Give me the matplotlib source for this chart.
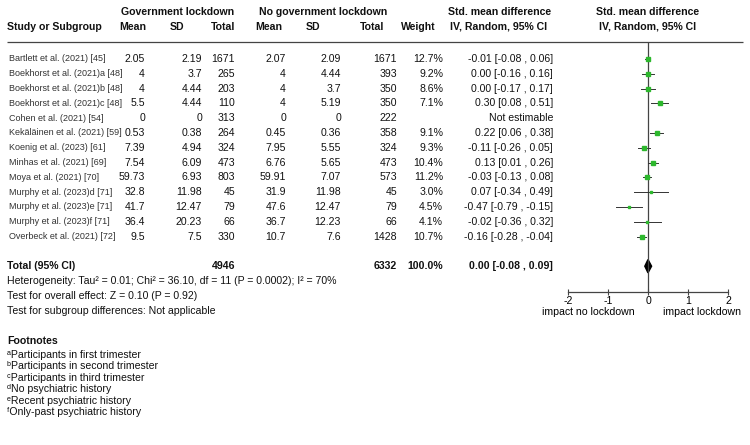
import matplotlib
matplotlib.use("Agg")
import matplotlib.pyplot as plt
from matplotlib.patches import Polygon

plt.rcParams['font.family'] = ['Liberation Sans', 'DejaVu Sans']

# #### Data

studies = ["Bartlett et al. (2021) [45]", "Boekhorst et al. (2021)a [48]",
           "Boekhorst et al. (2021)b [48]", "Boekhorst et al. (2021)c [48]",
           "Cohen et al. (2021) [54]", "Kekäläinen et al. (2021) [59]",
           "Koenig et al. (2023) [61]", "Minhas et al. (2021) [69]",
           "Moya et al. (2021) [70]", "Murphy et al. (2023)d [71]",
           "Murphy et al. (2023)e [71]", "Murphy et al. (2023)f [71]",
           "Overbeck et al. (2021) [72]"]
gov_mean = [2.05, 4, 4, 5.5, 0, 0.53, 7.39, 7.54, 59.73, 32.8, 41.7, 36.4, 9.5]
gov_sd = [2.19, 3.7, 4.44, 4.44, 0, 0.38, 4.94, 6.09, 6.93, 11.98, 12.47, 20.23, 7.5]
gov_n = [1671, 265, 203, 110, 313, 264, 324, 473, 803, 45, 79, 66, 330]
no_mean = [2.07, 4, 4, 4, 0, 0.45, 7.95, 6.76, 59.91, 31.9, 47.6, 36.7, 10.7]
no_sd = [2.09, 4.44, 3.7, 5.19, 0, 0.36, 5.55, 5.65, 7.07, 11.98, 12.47, 12.23, 7.6]
no_n = [1671, 393, 350, 350, 222, 358, 324, 473, 573, 45, 79, 66, 1428]
weight = [12.7, 9.2, 8.6, 7.1, None, 9.1, 9.3, 10.4, 11.2, 3.0, 4.5, 4.1, 10.7]
smd = [-0.01, 0.00, 0.00, 0.30, None, 0.22, -0.11, 0.13, -0.03, 0.07, -0.47, -0.02, -0.16]
ci_lo = [-0.08, -0.16, -0.17, 0.08, None, 0.06, -0.26, 0.01, -0.13, -0.34, -0.79, -0.36, -0.28]
ci_hi = [0.06, 0.16, 0.17, 0.51, None, 0.38, 0.05, 0.26, 0.08, 0.49, -0.15, 0.32, -0.04]

total_gov = 4946
total_no = 6332
pooled = [0.00, -0.08, 0.09]

stats_lines = ["Heterogeneity: Tau\u00b2 = 0.01; Chi\u00b2 = 36.10, df = 11 (P = 0.0002); I\u00b2 = 70%",
               "Test for overall effect: Z = 0.10 (P = 0.92)",
               "Test for subgroup differences: Not applicable"]
footnotes = ["\u1d43Participants in first trimester", "\u1d47Participants in second trimester",
             "\u1d9cParticipants in third trimester", "\u1d48No psychiatric history",
             "\u1d49Recent psychiatric history", "\u1da0Only-past psychiatric history"]
ticks = [-2, -1, 0, 1, 2]

# #### Layout (pixels, rows)

W, H = 750, 445
y0, dy = 59, 14.8          # first study row and row spacing in pixels
def row(px):
    return (px - y0) / dy

fig = plt.figure(figsize=(W / 100, H / 100), dpi=100)
tab = fig.add_axes([0, 0, 1, 1])
tab.set_xlim(0, W)
tab.set_ylim(row(H), row(0))
tab.axis('off')

fs = 7.6
hdr = dict(fontsize=fs, fontweight='bold', va='center', ha='center', color='#111')

# headers
tab.text(178, row(12), "Government lockdown", **hdr)
tab.text(323, row(12), "No government lockdown", **hdr)
tab.text(500, row(12), "Std. mean difference", **hdr)
tab.text(648, row(12), "Std. mean difference", **hdr)
tab.text(7, row(27), "Study or Subgroup", **dict(hdr, ha='left'))
for x, s in [(133, "Mean"), (177, "SD"), (223, "Total"), (269, "Mean"), (313, "SD"),
             (372, "Total"), (418, "Weight"), (499, "IV, Random, 95% CI"),
             (648, "IV, Random, 95% CI")]:
    tab.text(x, row(27), s, **hdr)
tab.hlines(row(42), 7, 743, color='#444', lw=0.9)

# study rows
cell = dict(fontsize=fs, va='center', ha='right', color='#111')
for i, name in enumerate(studies):
    tab.text(9, i, name, fontsize=6.5, va='center', ha='left', color='#333')
    tab.text(145, i, f"{gov_mean[i]:g}", **cell)
    tab.text(202, i, f"{gov_sd[i]:g}", **cell)
    tab.text(235, i, f"{gov_n[i]}", **cell)
    tab.text(286, i, f"{no_mean[i]:g}", **cell)
    tab.text(341, i, f"{no_sd[i]:g}", **cell)
    tab.text(397, i, f"{no_n[i]}", **cell)
    if weight[i] is not None:
        tab.text(443, i, f"{weight[i]:.1f}%", **cell)
        tab.text(553, i, f"{smd[i]:.2f} [{ci_lo[i]:.2f} , {ci_hi[i]:.2f}]", **cell)
    else:
        tab.text(553, i, "Not estimable", **cell)

# total row
n = len(studies) + 1
bold = dict(cell, fontweight='bold')
tab.text(7, n, "Total (95% CI)", **dict(bold, ha='left'))
tab.text(235, n, f"{total_gov}", **bold)
tab.text(397, n, f"{total_no}", **bold)
tab.text(443, n, "100.0%", **bold)
tab.text(553, n, f"{pooled[0]:.2f} [{pooled[1]:.2f} , {pooled[2]:.2f}]", **bold)

for k, s in enumerate(stats_lines):
    tab.text(7, n + 1 + k, s, fontsize=fs, va='center', ha='left', color='#111')

tab.text(7, row(341), "Footnotes", **dict(bold, ha='left'))
for k, s in enumerate(footnotes):
    tab.text(7, row(355) + k * 11.4 / dy, s, fontsize=fs, va='center', ha='left', color='#111')

# #### Forest plot

ax = fig.add_axes([568 / W, (H - 292) / H, 160 / W, 250 / H])
ax.set_xlim(-2, 2)
ax.set_ylim(row(292), row(42))
ax.patch.set_alpha(0)
for side in ['top', 'right', 'left']:
    ax.spines[side].set_visible(False)
ax.spines['bottom'].set_color('#444')
ax.spines['bottom'].set_linewidth(0.9)
ax.set_yticks([])
ax.set_xticks(ticks)
ax.set_xticklabels([str(t) for t in ticks])
ax.tick_params(axis='x', direction='inout', length=5, width=0.8, color='#444',
               labelsize=fs, pad=0.5)
ax.axvline(0, color='#444', lw=0.9)

for i in range(len(studies)):
    if smd[i] is None:
        continue
    ax.plot([ci_lo[i], ci_hi[i]], [i, i], color='#333', lw=0.7)
    ax.plot(smd[i], i, marker='s', ms=1.6 + 0.11 * weight[i], color='#2db82d', mec='#2db82d')

h = 0.45
ax.add_patch(Polygon([[pooled[1], n], [pooled[0], n - h], [pooled[2], n], [pooled[0], n + h]],
                     closed=True, color='black'))

ax.text(-1.5, row(312), "impact no lockdown", fontsize=fs, ha='center', va='center', clip_on=False)
ax.text(1.35, row(312), "impact lockdown", fontsize=fs, ha='center', va='center', clip_on=False)

fig.savefig("out.png", dpi=100)
